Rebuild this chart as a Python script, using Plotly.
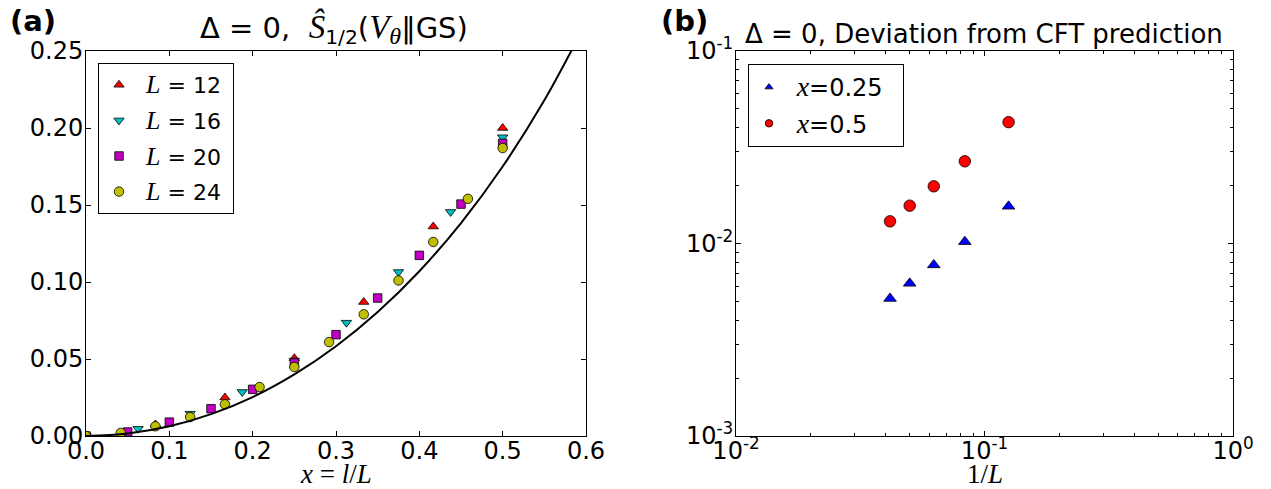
import plotly.graph_objects as go

# ---------------- data: panel (a) ----------------
x_L12 = [0.0, 0.0833, 0.1667, 0.25, 0.3333, 0.4167, 0.5]
y_L12 = [0.0, 0.0075, 0.025, 0.0505, 0.087, 0.136, 0.200]

x_L16 = [0.0, 0.0625, 0.125, 0.1875, 0.25, 0.3125, 0.375, 0.4375, 0.5]
y_L16 = [0.0, 0.0047, 0.0145, 0.0286, 0.049, 0.0736, 0.1065, 0.1455, 0.194]

x_L20 = [0.0, 0.05, 0.1, 0.15, 0.2, 0.25, 0.3, 0.35, 0.4, 0.45, 0.5]
y_L20 = [0.0, 0.0026, 0.009, 0.0177, 0.0303, 0.0474, 0.0658, 0.0896, 0.1173, 0.1506, 0.190]

x_L24 = [0.0, 0.0417, 0.0833, 0.125, 0.1667, 0.2083, 0.25, 0.2917, 0.3333,
         0.375, 0.4167, 0.4583, 0.5]
y_L24 = [0.0, 0.002, 0.0063, 0.0123, 0.0206, 0.0318, 0.0448, 0.061, 0.079,
         0.101, 0.126, 0.154, 0.187]

# CFT curve
x_cft = [0.0, 0.05, 0.1, 0.15, 0.2, 0.25, 0.3, 0.35, 0.4, 0.45, 0.5, 0.55, 0.6]
y_cft = [0.0, 0.0016, 0.0063, 0.0142, 0.0253, 0.0400, 0.0583, 0.0805, 0.1070,
         0.1383, 0.1750, 0.2180, 0.2684]

# ---------------- data: panel (b) ----------------
inv_L = [0.04167, 0.05, 0.0625, 0.08333, 0.125]
dev_x025 = [0.00518, 0.00621, 0.00774, 0.01022, 0.0156]
dev_x05 = [0.01303, 0.01572, 0.01982, 0.02673, 0.0427]

x_ticks_a = [0.0, 0.1, 0.2, 0.3, 0.4, 0.5, 0.6]
y_ticks_a = [0.0, 0.05, 0.10, 0.15, 0.20, 0.25]
log_ticks_x = [0.01, 0.1, 1]
log_ticks_x_text = ["10<sup>-2</sup>", "10<sup>-1</sup>", "10<sup>0</sup>"]
log_ticks_y = [0.001, 0.01, 0.1]
log_ticks_y_text = ["10<sup>-3</sup>", "10<sup>-2</sup>", "10<sup>-1</sup>"]

W, H = 1271, 489
OFF_X, OFF_Y = 9, 6   # page offset of the figure inside the browser window
SANS = "DejaVu Sans"
SERIF = "Liberation Serif"
NB = "\u00a0"


def px_x(p):
    return (p - OFF_X) / W


def px_y(p):
    return 1 - (p - OFF_Y) / H


def mi(s, size=None):
    st = f"font-family:'{SERIF}'"
    if size:
        st += f";font-size:{size}px"
    return f"<span style=\"{st}\"><i>{s}</i></span>"


fig = go.Figure()

edge = dict(color="black", width=0.8)
series_a = [
    (x_L12, y_L12, "12", "triangle-up", "#ff0000", 9),
    (x_L16, y_L16, "16", "triangle-down", "#00bfbf", 9),
    (x_L20, y_L20, "20", "square", "#bf00bf", 8.5),
    (x_L24, y_L24, "24", "circle", "#bfbf00", 9.5),
]
for xs, ys, lab, sym, col, sz in series_a:
    fig.add_trace(go.Scatter(
        x=xs, y=ys, mode="markers", name=f"{NB}{mi('L', 26)} = {lab}{NB}",
        legendgroup=lab, legend="legend",
        marker=dict(symbol=sym, color=col, size=sz, line=edge),
        xaxis="x", yaxis="y"))

fig.add_trace(go.Scatter(
    x=x_cft, y=y_cft, mode="lines", line=dict(color="black", width=2, shape="spline"),
    showlegend=False, xaxis="x", yaxis="y"))

# panel (b)
fig.add_trace(go.Scatter(
    x=inv_L, y=dev_x025, mode="markers", showlegend=False,
    marker=dict(symbol="triangle-up", color="#0000ff", size=11, line=edge),
    xaxis="x2", yaxis="y2"))
fig.add_trace(go.Scatter(
    x=inv_L, y=dev_x05, mode="markers", showlegend=False,
    marker=dict(symbol="circle", color="#ff0000", size=11.5, line=edge),
    xaxis="x2", yaxis="y2"))
# legend entries (smaller markers, as in the reference legend)
fig.add_trace(go.Scatter(
    x=[None], y=[None], mode="markers", name=f"{NB}{mi('x', 28)}=0.25{NB}{NB}",
    legend="legend2", legendgroup="b1",
    marker=dict(symbol="triangle-up", color="#0000ff", size=7, line=edge),
    xaxis="x2", yaxis="y2"))
fig.add_trace(go.Scatter(
    x=[None], y=[None], mode="markers", name=f"{NB}{mi('x', 28)}=0.5",
    legend="legend2", legendgroup="b2",
    marker=dict(symbol="circle", color="#ff0000", size=7.5, line=edge),
    xaxis="x2", yaxis="y2"))

axis_common = dict(
    showline=True, linecolor="black", linewidth=1, mirror="allticks",
    ticks="inside", ticklen=5, tickcolor="black", tickwidth=1,
    showgrid=False, zeroline=False, automargin=False,
    tickfont=dict(family=SANS, size=24, color="black"),
)

ydom = [px_y(434), px_y(49)]
fig.update_layout(
    width=W, height=H,
    margin=dict(l=0, r=0, t=0, b=0, autoexpand=False),
    paper_bgcolor="white", plot_bgcolor="white",
    font=dict(family=SANS, size=22, color="black"),
    xaxis=dict(domain=[px_x(87), px_x(587)], range=[0, 0.6],
               tickvals=x_ticks_a, tickformat=".1f", anchor="y",
               ticklabelstandoff=-7, **axis_common),
    yaxis=dict(domain=ydom, range=[0, 0.25], tickvals=y_ticks_a,
               tickformat=".2f", anchor="x", ticklabelstandoff=-3, **axis_common),
    xaxis2=dict(domain=[px_x(737), px_x(1234)], type="log", range=[-2, 0],
                tickvals=log_ticks_x, ticktext=log_ticks_x_text, anchor="y2",
                ticklabelstandoff=-7,
                minor=dict(ticks="inside", ticklen=3, tickcolor="black",
                           tickvals=[0.02, 0.03, 0.04, 0.05, 0.06, 0.07, 0.08, 0.09,
                                     0.2, 0.3, 0.4, 0.5, 0.6, 0.7, 0.8, 0.9]),
                **axis_common),
    yaxis2=dict(domain=ydom, type="log", range=[-3, -1],
                tickvals=log_ticks_y, ticktext=log_ticks_y_text, anchor="x2",
                ticklabelstandoff=-3,
                minor=dict(ticks="inside", ticklen=3, tickcolor="black",
                           tickvals=[0.002, 0.003, 0.004, 0.005, 0.006, 0.007, 0.008, 0.009,
                                     0.02, 0.03, 0.04, 0.05, 0.06, 0.07, 0.08, 0.09]),
                **axis_common),
    legend=dict(x=px_x(99), y=px_y(61), xanchor="left", yanchor="top",
                bordercolor="black", borderwidth=1, bgcolor="white",
                font=dict(family=SANS, size=22), tracegroupgap=4,
                traceorder="grouped"),
    legend2=dict(x=px_x(749), y=px_y(62), xanchor="left", yanchor="top",
                 bordercolor="black", borderwidth=1, bgcolor="white",
                 font=dict(family=SANS, size=24), tracegroupgap=2,
                 traceorder="grouped"),
    annotations=[
        dict(text="<b>(a)</b>", x=px_x(34), y=px_y(19), xref="paper", yref="paper",
             xanchor="center", yanchor="middle", showarrow=False,
             font=dict(family=SANS, size=29)),
        dict(text="<b>(b)</b>", x=px_x(685), y=px_y(19), xref="paper", yref="paper",
             xanchor="center", yanchor="middle", showarrow=False,
             font=dict(family=SANS, size=29)),
        dict(text=("Δ = 0,  " + mi("Ŝ", 33) + "<sub>1/2</sub>(" + mi("V", 33)
                   + "<sub>" + mi("θ", 24) + "</sub>‖GS)"),
             x=px_x(335), y=ydom[1], xref="paper", yref="paper",
             xanchor="center", yanchor="bottom", yshift=0, showarrow=False,
             font=dict(family=SANS, size=29)),
        dict(text="Δ = 0, Deviation from CFT prediction",
             x=px_x(985), y=ydom[1], xref="paper", yref="paper",
             xanchor="center", yanchor="bottom", yshift=0, showarrow=False,
             font=dict(family=SANS, size=26)),
        # axis titles
        dict(text=f"{mi('x')} = {mi('l')}/{mi('L')}", x=px_x(337), y=px_y(472),
             xref="paper", yref="paper", xanchor="center", yanchor="middle",
             showarrow=False, font=dict(family=SERIF, size=27)),
        dict(text=f"1/{mi('L')}", x=px_x(986), y=px_y(472),
             xref="paper", yref="paper", xanchor="center", yanchor="middle",
             showarrow=False, font=dict(family=SERIF, size=27)),
    ],
)

fig.write_html("out.html")
